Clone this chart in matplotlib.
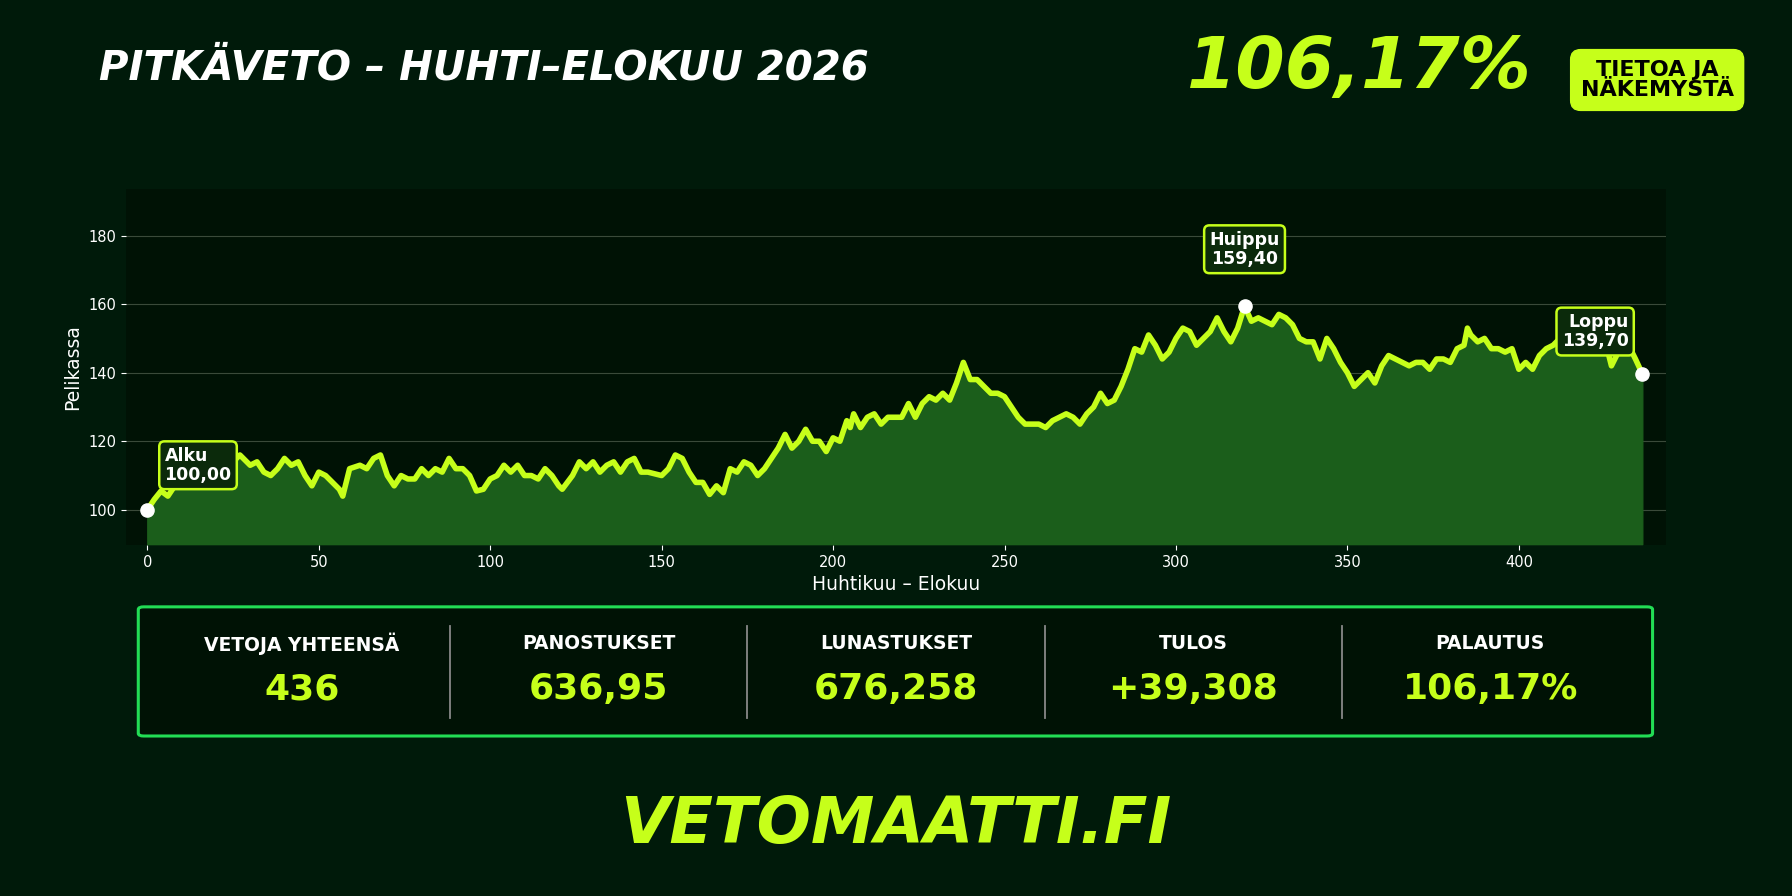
import matplotlib
matplotlib.use("Agg")
import matplotlib.pyplot as plt
from matplotlib.patches import FancyBboxPatch

xs = [0,2,4,6,8,10,12,15,18,20,22,25,27,30,32,34,36,38,40,42,44,46,48,50,52,54,56,57,59,62,64,66,68,70,72,74,76,78,80,82,84,86,88,90,92,94,96,98,100,102,104,106,108,110,112,114,116,118,120,121,124,126,128,130,132,134,136,138,140,142,144,146,150,152,154,156,158,160,162,164,166,168,170,172,174,176,178,180,182,184,186,188,190,192,194,196,198,200,202,204,205,206,208,210,212,214,216,218,220,222,224,226,228,230,232,234,236,238,240,242,244,246,248,250,252,254,256,258,260,262,264,266,268,270,272,274,276,278,280,282,284,286,288,290,292,294,296,298,300,302,304,306,308,310,312,314,316,318,320,322,324,326,328,330,332,334,336,338,340,342,344,346,348,350,352,354,356,358,360,362,364,366,368,370,372,374,376,378,380,382,384,385,386,388,390,392,394,396,398,400,402,404,406,408,410,412,414,416,418,420,422,424,426,427,430,432,434,436]
ys = [100,103,105.5,104,107,110,112,114,116,118,117,114,116,113,114,111,110,112,115,113,114,110,107,111,110,108,106,104,112,113,112,115,116,110,107,110,109,109,112,110,112,111,115,112,112,110,105.5,106,109,110,113,111,113,110,110,109,112,110,107,106,110,114,112,114,111,113,114,111,114,115,111,111,110,112,116,115,111,108,108,104.5,107,105,112,111,114,113,110,112,115,118,122,118,120,123.5,120,120,117,121,120,126,124,128,124,127,128,125,127,127,127,131,127,131,133,132,134,132,137,143,138,138,136,134,134,133,130,127,125,125,125,124,126,127,128,127,125,128,130,134,131,132,136,141,147,146,151,148,144,146,150,153,152,148,150,152,156,152,149,153,159.4,155,156,155,154,157,156,154,150,149,149,144,150,147,143,140,136,138,140,137,142,145,144,143,142,143,143,141,144,144,143,147,148,153,151,149,150,147,147,146,147,141,143,141,145,147,148,150,152,152,150,151,148,146,146,142,148,148,144,139.7]

stat_labels = ["VETOJA YHTEENSÄ", "PANOSTUKSET", "LUNASTUKSET", "TULOS", "PALAUTUS"]
stat_values = ["436", "636,95", "676,258", "+39,308", "106,17%"]

BG = "#001a0a"; AXBG = "#001205"; LIME = "#c6ff1a"; FILL = "#1b5e1b"
W, H = 1568.0, 784.0

fig = plt.figure(figsize=(17.92, 8.96), dpi=100, facecolor=BG)
ax = fig.add_axes([110/W, 1-477/H, (1458-110)/W, (477-165)/H], facecolor=AXBG)
ax.fill_between(xs, ys, 90, color=FILL, zorder=1)
ax.plot(xs, ys, color=LIME, lw=4, zorder=3)
ax.set_xlim(-6.3, 443)
ax.set_ylim(89.7, 193.7)
ax.set_yticks([100, 120, 140, 160, 180])
ax.set_xticks([0, 50, 100, 150, 200, 250, 300, 350, 400])
ax.grid(axis='y', color='#3a4a3a', lw=0.8)
ax.set_axisbelow(True)
for s in ax.spines.values():
    s.set_visible(False)
ax.tick_params(colors='white', labelsize=10.5)
ax.set_xlabel("Huhtikuu – Elokuu", color='white', fontsize=13.5)
ax.set_ylabel("Pelikassa", color='white', fontsize=13.5)

pts = [(0, 100, "Alku\n100,00", (5, 113), 'left'), (320, 159.4, "Huippu\n159,40", (320, 176), 'center'),
       (436, 139.7, "Loppu\n139,70", (432, 152), 'right')]
for x, y, t, (tx, ty), ha in pts:
    ax.scatter([x], [y], s=90, color='white', zorder=5)
    ax.text(tx, ty, t, color='white', fontsize=12.5, fontweight='bold', ha=ha, va='center', zorder=6,
            bbox=dict(boxstyle='round,pad=0.3', fc='#0b2a0b', ec=LIME, lw=1.8), linespacing=1.1)

fig.text(87/W, 1-60/H, "PITKÄVETO – HUHTI–ELOKUU 2026", color='white', fontsize=29,
         fontweight='bold', style='italic', va='center')
fig.text(1340/W, 1-60/H, "106,17%", color=LIME, fontsize=51, fontweight='bold',
         style='italic', va='center', ha='right')
fig.text(1450/W, 1-70/H, "TIETOA JA\nNÄKEMYSTÄ", color='black', fontsize=16, fontweight='bold',
         ha='center', va='center', linespacing=1.05,
         bbox=dict(boxstyle='round,pad=0.45', fc=LIME, ec=LIME))

bx0, bx1, by0, by1 = 121/W, 1446/W, 1-644/H, 1-531/H
fig.patches.append(FancyBboxPatch((bx0, by0), bx1-bx0, by1-by0, boxstyle='round,pad=0,rounding_size=0.003',
                                  transform=fig.transFigure, fc='#001205', ec='#22dd55', lw=2.2))
for i, (l, v) in enumerate(zip(stat_labels, stat_values)):
    cx = (264 + 260*i)/W
    fig.text(cx, 1-563/H, l, color='white', fontsize=13.5, fontweight='bold', ha='center', va='center')
    fig.text(cx, 1-603/H, v, color=LIME, fontsize=26, fontweight='bold', ha='center', va='center')
    if i > 0:
        dx = (393.5 + 260.3*(i-1))/W
        fig.add_artist(plt.Line2D([dx]*2, [1-548/H, 1-628/H], color='#888888', lw=1.3,
                                  transform=fig.transFigure))

fig.text(0.5, 1-722/H, "VETOMAATTI.FI", color=LIME, fontsize=46, fontweight='bold', style='italic',
         ha='center', va='center')
fig.savefig("out.png", dpi=100, facecolor=BG)
